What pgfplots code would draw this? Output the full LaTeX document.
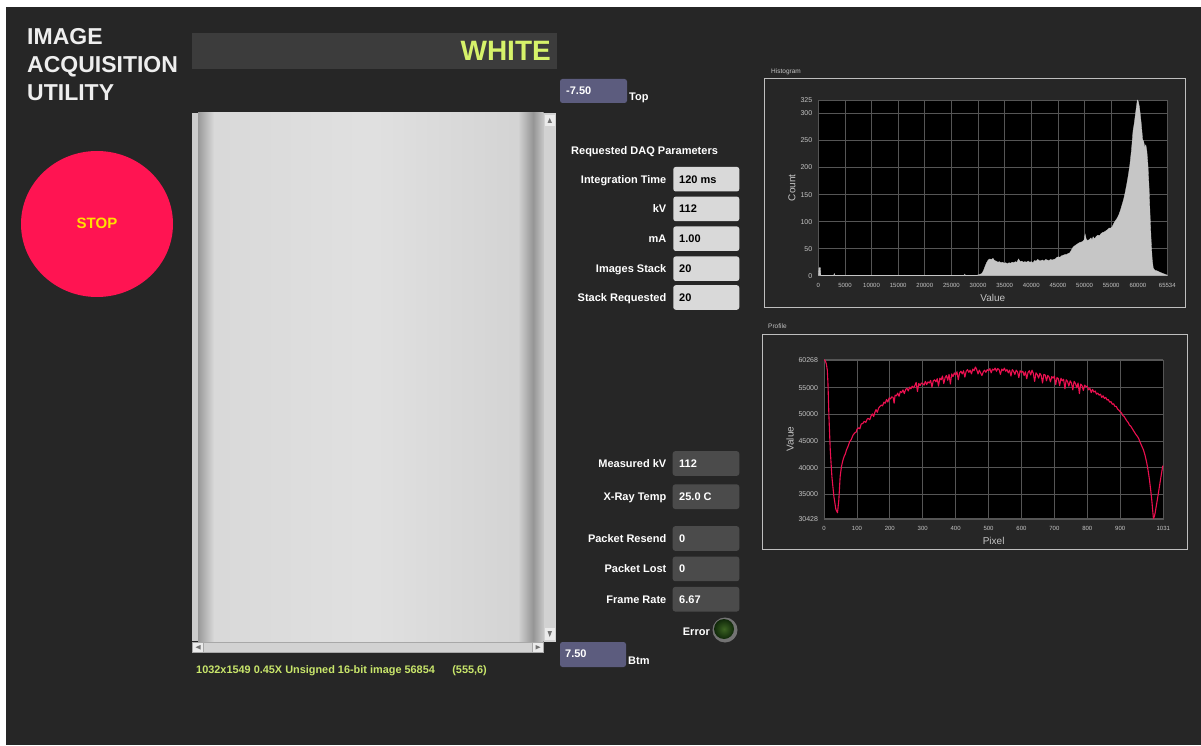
\documentclass[border=0pt]{standalone}
\usepackage{fontspec}
\setmainfont{Liberation Sans}
\usepackage{pgfplots}
\pgfplotsset{compat=1.18}
\usepackage{pgfplotstable}

\definecolor{bg}{HTML}{262626}
\definecolor{boxgray}{HTML}{3C3C3C}
\definecolor{whitegreen}{HTML}{D6F26A}
\definecolor{titlewhite}{HTML}{EEEEEE}
\definecolor{slate}{HTML}{5C5C7E}
\definecolor{lightbox}{HTML}{D9D9D9}
\definecolor{darkbox}{HTML}{4B4B4B}
\definecolor{stopred}{HTML}{FF1452}
\definecolor{stopyellow}{HTML}{FFE000}
\definecolor{statusgreen}{HTML}{C9E66B}
\definecolor{histgray}{HTML}{C6C6C6}
\definecolor{profred}{HTML}{EC1050}
\definecolor{gridc}{HTML}{555555}
\definecolor{tickc}{HTML}{C4C4C4}
\definecolor{framec}{HTML}{BEBEBE}
\definecolor{scrollc}{HTML}{D2D2D2}

% histogram: value, count
\pgfplotstableread{
v c
0 0
120 15
380 15
480 1
2900 1
3000 4
3100 1
27400 1
27500 3
27600 1
29800 1
30200 2
30700 4
31000 9
31300 17
31600 24
31900 29
32200 31
32500 30
32800 32
33100 28
33400 27
33700 25
34000 26
34300 24
34600 25
34900 23
35200 24
35500 22
35800 24
36100 23
36400 25
36700 24
37000 26
37300 25
37600 31
37900 26
38200 27
38500 25
38800 26
39100 25
39400 27
39700 25
40000 26
40300 24
40600 28
40900 27
41200 30
41500 28
41800 28
42100 29
42400 27
42700 30
43000 29
43300 28
43600 30
43900 29
44200 30
44500 31
44800 34
45100 35
45400 34
45700 37
46000 38
46300 39
46600 39
46900 41
47200 42
47500 47
47800 52
48100 55
48400 57
48700 59
49000 61
49300 62
49600 63
49900 66
50100 77
50300 68
50600 65
50900 67
51200 70
51400 66
51600 72
51900 68
52200 73
52500 75
52800 74
53100 78
53400 80
53700 81
54000 83
54300 85
54600 88
54900 88
55200 91
55500 97
55800 102
56100 106
56400 112
56700 120
57000 130
57300 140
57600 153
57900 168
58200 185
58500 205
58800 232
59100 268
59300 280
59500 295
59700 310
59900 325
60100 322
60300 312
60500 295
60700 275
60900 252
61100 248
61300 238
61500 242
61700 230
61900 205
62100 165
62300 112
62500 65
62700 30
62900 14
63200 10
63600 9
64000 7
64500 5
65000 3
65534 1
}\histdata

% profile: pixel, value
\pgfplotstableread{
p v
0 60268
4 60050
7 59500
10 58300
12 55800
15 49600
19 43300
24 38300
30 34600
36 32200
41 31550
45 33900
49 38300
53 40200
57 41300
61 42100
65 42600
68 43300
73 44000
78 44900
83 45300
88 46100
93 46500
98 46700
100 47200
105 47500
109 47300
113 48200
118 48300
122 48700
127 48500
131 49100
134 49250
139 49000
143 49700
147 50100
151 49600
154 50300
158 50900
162 50400
166 51200
170 51500
174 51750
178 51600
182 52300
186 52100
190 52800
194 52300
198 53100
202 52900
206 53300
210 53200
213 52100
216 53600
220 53500
224 54000
228 53400
232 54300
236 54100
240 54600
244 53900
248 54700
252 54900
256 54400
260 55100
264 54800
268 55300
272 55000
276 55400
280 56000
284 54300
288 55800
292 55400
296 55900
300 55800
304 55500
308 56200
312 55600
316 56100
320 55900
324 56400
328 55100
332 56300
336 56500
340 56100
344 56700
348 55300
352 56800
356 56500
360 57200
364 55800
368 56900
372 57300
376 56400
380 57500
384 55700
388 57600
392 57100
396 57800
400 57400
404 58000
408 56500
412 57800
416 58100
420 57600
424 58200
428 57000
432 58100
436 58400
440 57900
444 58300
448 57600
452 58500
456 58200
460 58900
464 58400
468 57600
472 58300
476 57800
480 57300
484 58000
488 58300
492 57900
496 58400
500 58200
504 58600
508 57800
512 58500
516 58300
520 58700
524 58100
528 58600
532 58400
536 57500
540 58500
544 58200
548 58700
552 58100
556 58400
560 57800
564 58300
568 57200
572 58400
576 58100
580 57500
584 58300
588 58000
592 56900
596 58200
600 57900
604 58100
608 57300
612 58000
616 56700
620 57900
624 58200
628 57400
632 58300
636 57700
640 56200
644 57800
648 57500
652 56800
656 57700
660 57300
664 55900
668 57500
672 57400
676 56300
680 57300
684 57000
688 56100
692 57100
696 56800
700 57200
704 55600
708 56900
712 56700
716 55400
720 56800
724 56300
728 56600
732 54800
736 56500
740 56200
744 55300
748 56300
752 55900
756 54600
760 56200
764 55800
768 55000
772 55900
776 53900
780 55700
784 55400
788 54500
792 55500
796 55200
800 55300
804 54600
808 54900
812 54100
816 54700
820 54200
824 54400
828 53800
832 54000
836 53600
840 53800
844 53200
848 53500
852 53000
856 53200
860 52700
864 52800
868 52300
872 52400
876 51900
880 52000
884 51500
888 51500
892 51000
896 50800
900 50500
904 50300
908 49800
912 49600
916 49200
920 48800
924 48500
928 48000
932 47800
936 47400
940 47000
944 46600
948 46200
952 45900
956 45500
961 44700
966 44000
971 43300
976 42200
981 40800
985 39400
989 37700
993 35600
996 33900
999 31800
1001 30428
1004 30900
1006 31450
1011 33300
1016 35200
1022 37600
1029 40200
1031 40400
}\profdata

% y is given in screen pixels from the top
\newcommand{\ubox}[5]{\fill[#1, rounded corners=2.5pt] (#2,745-#3) rectangle (#4,745-#5);}
\newcommand{\rlab}[3]{\node[anchor=base east, inner sep=0pt, text=white,
  font=\fontsize{11}{11}\bfseries\selectfont] at (#1,745-#2-4) {#3};}
\newcommand{\llab}[4]{\node[anchor=base west, inner sep=0pt, text=#4,
  font=\fontsize{11}{11}\bfseries\selectfont] at (#1,745-#2-4) {#3};}

\pgfplotsset{
  uiaxis/.style={
    scale only axis,
    axis background/.style={fill=black},
    grid=major,
    major grid style={draw=gridc, line width=0.7pt},
    axis line style={draw=gridc},
    tick style={draw=none},
    tick label style={text=tickc},
    y tick label style={font=\fontsize{7}{7}\selectfont, xshift=-2.5pt},
    x tick label style={font=\fontsize{6}{6}\selectfont, yshift=-4pt},
    label style={text=tickc, font=\fontsize{10}{10}\selectfont},
    scaled x ticks=false, scaled y ticks=false,
    /pgf/number format/1000 sep={},
    /pgf/number format/assume math mode=true,
  },
}

\begin{document}
\begin{tikzpicture}
\begin{scope}[x=1pt,y=1pt]
\useasboundingbox (0,0) rectangle (1201,745);
% window
\fill[white] (0,0) rectangle (1201,745);
\fill[bg] (6,0) rectangle (1201,738);

% title
\foreach \t/\yy in {IMAGE/44.5, ACQUISITION/72.5, UTILITY/100.5}
  \node[anchor=base west, inner sep=0pt, text=titlewhite,
    font=\fontsize{23}{23}\bfseries\selectfont] at (27,745-\yy) {\t};

% WHITE banner
\fill[boxgray] (192,745-33) rectangle (557,745-69);
\node[anchor=base east, inner sep=0pt, text=whitegreen,
  font=\fontsize{28}{28}\bfseries\selectfont] at (551,745-61) {WHITE};

% STOP button
\fill[stopred] (97,745-224) ellipse [x radius=76, y radius=73];
\node[anchor=base, inner sep=0pt, text=stopyellow,
  font=\fontsize{15}{15}\bfseries\selectfont] at (97,745-228.5) {STOP};

% image panel
\fill[histgray!90!white] (192,745-113) rectangle (198,745-641);
\shade[left color=black!40, right color=black!15] (198,745-113) rectangle (214,745-641);
\shade[left color=black!15, right color=black!12] (214,745-113) rectangle (370,745-641);
\shade[left color=black!12, right color=black!17] (370,745-113) rectangle (518,745-641);
\shade[left color=black!17, right color=black!43] (518,745-113) rectangle (534,745-641);
\shade[left color=black!40, right color=black!22] (534,745-113) rectangle (543.5,745-641);
% scroll bars
\fill[scrollc] (543.5,745-113) rectangle (556,745-641.5);
\fill[scrollc!80!black] (192,745-641.5) rectangle (543.5,745-653);
\fill[scrollc] (204,745-642.5) rectangle (532,745-652);
\fill[white!92!black] (545,745-115) rectangle (554.5,745-126);
\fill[white!92!black] (545,745-628) rectangle (554.5,745-639.5);
\fill[white!92!black] (193,745-642.5) rectangle (203,745-652);
\fill[white!92!black] (533,745-642.5) rectangle (542.5,745-652);
\fill[black!55] (549.7,745-118) -- (547.5,745-123) -- (552,745-123) -- cycle;
\fill[black!55] (549.7,745-637) -- (547.5,745-631) -- (552,745-631) -- cycle;
\fill[black!55] (195.5,745-647.2) -- (200.5,745-645) -- (200.5,745-649.5) -- cycle;
\fill[black!55] (540.5,745-647.2) -- (535.5,745-645) -- (535.5,745-649.5) -- cycle;
\node[anchor=base west, inner sep=0pt, text=statusgreen,
  font=\fontsize{10.9}{10.9}\bfseries\selectfont] at (196,745-673)
  {1032x1549 0.45X Unsigned 16-bit image 56854\hspace{1.6em}(555,6)};

% Top / Btm controls
\ubox{slate}{560}{79}{627}{103}
\llab{566}{91}{-7.50}{white}
\llab{629}{97}{Top}{white}
\ubox{slate}{560}{642}{626}{667}
\llab{565}{653}{7.50}{white}
\llab{628}{660}{Btm}{white}

% requested parameters
\node[anchor=base west, inner sep=0pt, text=white,
  font=\fontsize{11}{11}\bfseries\selectfont] at (571,745-154.7) {Requested DAQ Parameters};
\foreach \yc/\lb/\vl in {179.2/Integration Time/120 ms, 208.9/kV/112, 238.7/mA/1.00,
    268.7/Images Stack/20, 297.5/Stack Requested/20}{
  \ubox{lightbox}{673.3}{\yc-12.3}{739.3}{\yc+12.3}
  \rlab{666.5}{\yc}{\lb}
  \llab{679}{\yc}{\vl}{black}
}

% measured values
\foreach \yc/\lb/\vl in {463.5/Measured kV/112, 496.7/X-Ray Temp/25.0 C,
    538.5/Packet Resend/0, 568.9/Packet Lost/0, 599.2/Frame Rate/6.67}{
  \ubox{darkbox}{672.7}{\yc-12.3}{739.3}{\yc+12.3}
  \rlab{666.5}{\yc}{\lb}
  \llab{679}{\yc}{\vl}{white}
}
\rlab{710}{631}{Error}
\fill[black!55] (725,745-630) circle (12.5);
\shade[inner color={rgb,255:red,60;green,100;blue,35}, outer color={rgb,255:red,16;green,40;blue,10}]
  (724,745-629) circle (10);

% panel frames and titles
\draw[framec, line width=0.8pt] (764,745-78) rectangle (1185,745-307);
\node[anchor=base west, inner sep=0pt, text=tickc, font=\fontsize{6.5}{6.5}\selectfont]
  at (771,745-73.5) {Histogram};
\draw[framec, line width=0.8pt] (762,745-334) rectangle (1187,745-549);
\node[anchor=base west, inner sep=0pt, text=tickc, font=\fontsize{6.5}{6.5}\selectfont]
  at (768,745-328.5) {Profile};
\end{scope}

% histogram
\begin{axis}[uiaxis,
  at={(818.3pt,469.3pt)}, anchor=south west,
  width=349pt, height=175.7pt,
  xmin=0, xmax=65534, ymin=0, ymax=325,
  xtick={0,5000,10000,15000,20000,25000,30000,35000,40000,45000,50000,55000,60000,65534},
  ytick={0,50,100,150,200,250,300,325},
  xlabel={Value}, ylabel={Count},
  xlabel style={at={(axis description cs:0.5,-0.125)}, anchor=center},
  ylabel style={at={(axis description cs:-0.0754,0.5)}, anchor=center},
]
\addplot[fill=histgray, draw=histgray, line width=0.3pt] table[x=v, y=c] {\histdata} \closedcycle;
\end{axis}

% profile
\begin{axis}[uiaxis,
  at={(824pt,226.3pt)}, anchor=south west,
  width=339.3pt, height=159pt,
  xmin=0, xmax=1031, ymin=30428, ymax=60268,
  xtick={0,100,200,300,400,500,600,700,800,900,1031},
  ytick={30428,35000,40000,45000,50000,55000,60268},
  xlabel={Pixel}, ylabel={Value},
  xlabel style={at={(axis description cs:0.5,-0.138)}, anchor=center},
  ylabel style={at={(axis description cs:-0.1003,0.5)}, anchor=center},
]
\addplot[profred, line width=1.1pt, line join=round] table[x=p, y=v] {\profdata};
\end{axis}
\end{tikzpicture}
\end{document}
